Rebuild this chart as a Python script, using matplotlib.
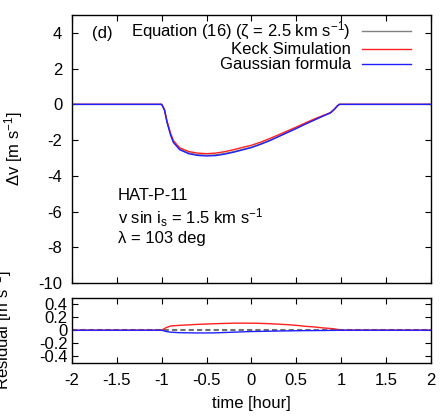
import matplotlib
matplotlib.use("Agg")
import matplotlib.pyplot as plt

plt.rcParams['font.family'] = ['Liberation Sans', 'DejaVu Sans']
plt.rcParams['font.size'] = 12
plt.rcParams['axes.unicode_minus'] = False
plt.rcParams['mathtext.fontset'] = 'custom'
plt.rcParams['mathtext.rm'] = 'Liberation Sans'
plt.rcParams['mathtext.it'] = 'Liberation Sans:italic'

# model curves [m/s] vs time [hour]
t = [-2, -1.0, -0.97, -0.94, -0.9, -0.87, -0.8, -0.7, -0.6, -0.5, -0.4, -0.3, -0.2, -0.1,
     0, 0.1, 0.2, 0.3, 0.4, 0.5, 0.6, 0.7, 0.8, 0.88, 0.92, 0.96, 0.98, 2]
eq16 = [0, 0, -0.3, -1.0, -1.7, -2.1, -2.5, -2.72, -2.82, -2.85, -2.83, -2.75, -2.65, -2.52,
        -2.4, -2.22, -2.02, -1.8, -1.57, -1.34, -1.1, -0.87, -0.65, -0.48, -0.3, -0.08, 0, 0]
keck = [0, 0, -0.27, -0.95, -1.64, -2.03, -2.43, -2.64, -2.73, -2.76, -2.73, -2.65, -2.54, -2.41,
        -2.29, -2.12, -1.92, -1.71, -1.49, -1.27, -1.04, -0.82, -0.62, -0.46, -0.28, -0.07, 0, 0]
gauss = [0, 0, -0.31, -1.02, -1.73, -2.13, -2.54, -2.76, -2.86, -2.89, -2.87, -2.79, -2.68, -2.55,
         -2.42, -2.24, -2.04, -1.81, -1.58, -1.35, -1.11, -0.88, -0.65, -0.48, -0.3, -0.08, 0, 0]

# residuals (model - eq16)
t_res = [-2, -1.0, -0.95, -0.9, -0.8, -0.7, -0.6, -0.5, -0.4, -0.3, -0.2, -0.1, 0,
         0.1, 0.2, 0.3, 0.4, 0.5, 0.6, 0.7, 0.8, 0.9, 0.95, 1.0, 2]
res_eq = [0] * len(t_res)
res_keck = [0, 0, 0.04, 0.065, 0.075, 0.082, 0.09, 0.095, 0.1, 0.104, 0.108, 0.108, 0.108,
            0.105, 0.1, 0.093, 0.085, 0.075, 0.06, 0.05, 0.035, 0.025, 0.015, 0, 0]
res_gauss = [0, 0, -0.02, -0.03, -0.038, -0.04, -0.042, -0.042, -0.04, -0.035, -0.03, -0.025, -0.02,
             -0.018, -0.015, -0.012, -0.01, -0.008, -0.006, -0.005, -0.004, -0.002, -0.001, 0, 0]

xticks = [-2, -1.5, -1, -0.5, 0, 0.5, 1, 1.5, 2]
xticklabels = ['-2', '-1.5', '-1', '-0.5', '0', '0.5', '1', '1.5', '2']

fig = plt.figure(figsize=(4.47, 4.18), dpi=100)
ax1 = fig.add_axes([0.161, 0.323, 0.803, 0.641])
ax2 = fig.add_axes([0.161, 0.132, 0.803, 0.156])

c_eq = '#808080'
c_keck = '#ff2020'
c_gauss = '#2020ff'

ax1.plot(t, eq16, color=c_eq, lw=1, label='Equation (16) (ζ = 2.5 km s$^{-1}$)')
ax1.plot(t, keck, color=c_keck, lw=1, label='Keck Simulation')
ax1.plot(t, gauss, color=c_gauss, lw=1, label='Gaussian formula')
ax1.set_xlim(-2, 2)
ax1.set_ylim(-10, 5)
ax1.set_yticks([-10, -8, -6, -4, -2, 0, 2, 4])
ax1.set_xticks(xticks)
ax1.set_xticklabels([])
ax1.set_ylabel('Δv [m s$^{-1}$]')
ax1.yaxis.set_label_coords(-0.131, 0.5)
ax1.legend(loc='upper right', bbox_to_anchor=(0.944, 0.98), frameon=False, markerfirst=False,
           handlelength=2.95, handletextpad=0.65, labelspacing=0.0, borderpad=0, borderaxespad=0)
ax1.text(0.055, 0.93, '(d)', transform=ax1.transAxes, va='center')
ax1.text(0.128, 0.245, 'HAT-P-11\nv sin i$_{\\rm s}$ = 1.5 km s$^{-1}$\nλ = 103 deg',
         transform=ax1.transAxes, va='center', linespacing=1.18)

ax2.plot(t_res, res_eq, color='#707070', lw=1.5, ls=(0, (2.5, 1.5)))
ax2.plot(t_res, res_keck, color=c_keck, lw=1)
ax2.plot(t_res, res_gauss, color=c_gauss, lw=1)
ax2.set_xlim(-2, 2)
ax2.set_ylim(-0.5, 0.5)
ax2.set_yticks([-0.4, -0.2, 0, 0.2, 0.4])
ax2.set_yticklabels(['-0.4', '-0.2', '0', '0.2', '0.4'])
ax2.set_xticks(xticks)
ax2.set_xticklabels(xticklabels)
ax2.set_xlabel('time [hour]', labelpad=6)
ax2.set_ylabel('Residual [m s$^{-1}$]')
ax2.yaxis.set_label_coords(-0.162, 0.5)

for ax in (ax1, ax2):
    ax.tick_params(direction='in', top=True, right=True, length=4, width=0.8)
    for s in ax.spines.values():
        s.set_linewidth(1.0)
ax1.tick_params(axis='y', pad=7)
ax2.tick_params(axis='y', pad=3)
ax2.tick_params(axis='x', pad=7)

fig.savefig('out.png', dpi=100)
